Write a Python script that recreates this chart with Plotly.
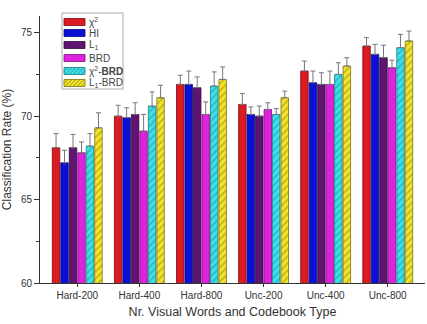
import plotly.graph_objects as go

categories = ["Hard-200", "Hard-400", "Hard-800", "Unc-200", "Unc-400", "Unc-800"]
series_names = ["χ<sup>2</sup>", "HI", "L<sub>1</sub>", "BRD", "χ<sup>2</sup>-<b>BRD</b>", "L<sub>1</sub>-BRD"]

chi2 = [68.1, 70.0, 71.9, 70.7, 72.7, 74.2]
hi = [67.2, 69.9, 71.9, 70.1, 72.0, 73.7]
l1 = [68.1, 70.1, 71.7, 70.0, 71.9, 73.5]
brd = [67.8, 69.1, 70.1, 70.4, 71.9, 72.9]
chi2_brd = [68.2, 70.6, 71.8, 70.1, 72.5, 74.1]
l1_brd = [69.3, 71.1, 72.2, 71.1, 73.0, 74.5]

chi2_err = [0.85, 0.65, 0.55, 0.65, 0.6, 0.5]
hi_err = [0.75, 0.6, 0.8, 0.45, 0.7, 0.6]
l1_err = [0.8, 0.7, 0.65, 0.6, 0.7, 0.75]
brd_err = [0.65, 1.0, 0.75, 0.4, 0.8, 0.45]
chi2_brd_err = [0.75, 0.85, 0.85, 0.35, 0.7, 0.8]
l1_brd_err = [0.9, 0.75, 0.75, 0.4, 0.5, 0.6]

values = [chi2, hi, l1, brd, chi2_brd, l1_brd]
errors = [chi2_err, hi_err, l1_err, brd_err, chi2_brd_err, l1_brd_err]
colors = ["#dc1a22", "#0b10d6", "#5e1470", "#de22de", "#3ee0ea", "#f2e42a"]
edge_colors = ["#7a0a10", "#05087a", "#33083d", "#7a107a", "#1a7a80", "#7a7010"]
patterns = ["", "", "", "", "/", "/"]
pattern_fg = ["#000", "#000", "#000", "#000", "#1a8a90", "#8a7a10"]

fig = go.Figure()
for name, v, e, c, ec, p, pf in zip(series_names, values, errors, colors, edge_colors, patterns, pattern_fg):
    fig.add_trace(go.Bar(
        x=categories, y=v, name=name, showlegend=False,
        marker=dict(color=c, line=dict(color=ec, width=0.8),
                    pattern=dict(shape=p, fgcolor=pf, size=5, solidity=0.3)),
        error_y=dict(type="data", symmetric=False, array=e, arrayminus=[0] * len(e),
                     color="#777777", thickness=1, width=2.5),
    ))

# Custom compact legend (plot area: x 40..425 px, y 16..283 px)
PL, PW, PB, PH = 40, 385, 283, 267
def px(x):
    return (x - PL) / PW
def py(y):
    return (PB - y) / PH

shapes = [dict(type="rect", xref="paper", yref="paper",
               x0=px(62), x1=px(123), y0=py(89), y1=py(13),
               line=dict(color="#aaaaaa", width=1), fillcolor="white", layer="above")]
annotations = []
row_y = [22, 33, 45, 58, 71, 83]
for name, c, ec, p, pf, yy in zip(series_names, colors, edge_colors, patterns, pattern_fg, row_y):
    x0, x1, y0, y1 = 64, 85, yy + 3.5, yy - 3.5
    shapes.append(dict(type="rect", xref="paper", yref="paper",
                       x0=px(x0), x1=px(x1), y0=py(y0), y1=py(y1),
                       line=dict(color=ec, width=0.8), fillcolor=c, layer="above"))
    if p:
        path = ""
        for k in range(-7, 22, 4):
            xa, xb = x0 + k, x0 + k + 7
            ya, yb = y0, y1
            if xa < x0:
                ya = y0 - (x0 - xa); xa = x0
            if xb > x1:
                yb = y1 + (xb - x1); xb = x1
            if xb <= xa:
                continue
            path += f"M{px(xa)},{py(ya)} L{px(xb)},{py(yb)} "
        shapes.append(dict(type="path", xref="paper", yref="paper", path=path,
                           line=dict(color=pf, width=0.8), layer="above"))
    annotations.append(dict(xref="paper", yref="paper", x=px(87), y=py(yy),
                            xanchor="left", yanchor="middle", showarrow=False,
                            text=name, font=dict(size=10, color="#444444")))

fig.update_layout(
    width=427, height=324,
    margin=dict(l=40, r=2, t=16, b=41),
    paper_bgcolor="white", plot_bgcolor="white",
    barmode="group", bargap=0.18, bargroupgap=0.12,
    font=dict(family="Liberation Sans, Arial, sans-serif", color="#333333", size=10),
    showlegend=False,
    shapes=shapes, annotations=annotations,
)
fig.update_xaxes(
    range=[-0.6, 5.6], showline=True, linecolor="#333333", linewidth=1,
    ticks="outside", ticklen=3, tickcolor="#333333", showgrid=False,
    tickfont=dict(size=10),
    title=dict(text="Nr. Visual Words and Codebook Type", font=dict(size=12.5), standoff=7),
)
fig.update_yaxes(
    range=[60, 76], showline=True, linecolor="#333333", linewidth=1,
    ticks="outside", ticklen=5, tickcolor="#333333", showgrid=False,
    tickvals=[60, 65, 70, 75], tickfont=dict(size=10),
    minor=dict(tickvals=[62.5, 67.5, 72.5], ticks="outside", ticklen=3, tickcolor="#333333"),
    title=dict(text="Classification Rate (%)", font=dict(size=12), standoff=6),
    zeroline=False,
)

fig.write_html("out.html")
